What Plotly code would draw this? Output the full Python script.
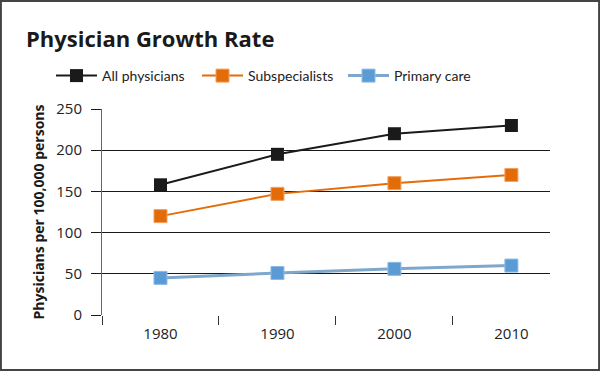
import plotly.graph_objects as go

years = ["1980", "1990", "2000", "2010"]
all_physicians = [158, 195, 220, 230]
subspecialists = [120, 147, 160, 170]
primary_care = [45, 51, 56, 60]
y_ticks = [0, 50, 100, 150, 200, 250]

W, H = 600, 371
FONT = "Open Sans"

fig = go.Figure()
fig.add_trace(go.Scatter(x=years, y=all_physicians, name="All physicians", mode="lines+markers",
                         line=dict(color="#1a1a1a", width=2),
                         marker=dict(symbol="square", size=13, color="#1a1a1a")))
fig.add_trace(go.Scatter(x=years, y=subspecialists, name="Subspecialists", mode="lines+markers",
                         line=dict(color="#e36c09", width=2),
                         marker=dict(symbol="square", size=13, color="#e36c09",
                                     line=dict(color="#f0a060", width=1))))
fig.add_trace(go.Scatter(x=years, y=primary_care, name="Primary care", mode="lines+markers",
                         line=dict(color="#7fa7cc", width=3),
                         marker=dict(symbol="square", size=13, color="#5b9bd5",
                                     line=dict(color="#8dbbe3", width=1))))

fig.update_layout(
    template="none",
    width=W, height=H,
    margin=dict(l=0, r=0, t=0, b=0),
    paper_bgcolor="white", plot_bgcolor="white",
    font=dict(family=FONT, color="#1a1a1a"),
    showlegend=True,
    legend=dict(orientation="h", x=51 / W, y=1 - 76 / H, xanchor="left", yanchor="middle",
                font=dict(size=14, color="#222", family="Lato"), itemwidth=41,
                entrywidth=90, tracegroupgap=0,
                bgcolor="rgba(0,0,0,0)"),
    xaxis=dict(domain=[102 / W, 550 / W], type="category", range=[-0.5, 3.33],
               showgrid=False, showline=False, ticks="outside", tickson="boundaries",
               ticklen=9, tickcolor="#333", tickwidth=1, automargin=False,
               ticklabelstandoff=8,
               tickfont=dict(size=15, color="#222"), zeroline=False),
    yaxis=dict(domain=[1 - 315 / H, 1 - 109 / H], range=[0, 250], tickvals=y_ticks,
               showgrid=True, gridcolor="#1a1a1a", gridwidth=1,
               showline=True, linecolor="#666", linewidth=1,
               ticks="outside", ticklen=10, tickcolor="#1a1a1a", automargin=False,
               ticklabelstandoff=6, zeroline=False,
               tickfont=dict(size=15, color="#222"),
               title=dict(text="<b>Physicians per 100,000 persons</b>", standoff=8,
                          font=dict(size=14, color="#1a1a1a"))),
)

fig.add_annotation(text="<b>Physician Growth Rate</b>", xref="paper", yref="paper",
                   x=24 / W, y=1 - 38 / H, xanchor="left", yanchor="middle",
                   showarrow=False, font=dict(size=22, color="#1a1a1a", family=FONT))

fig.add_shape(type="rect", xref="paper", yref="paper", x0=0.0015, y0=0.0025, x1=0.9985, y1=0.9975,
              line=dict(color="#444", width=2), fillcolor="rgba(0,0,0,0)", layer="above")

fig.write_html("out.html", config={"displayModeBar": False},
               post_script="document.body.style.margin='0';document.body.style.overflow='hidden';")
